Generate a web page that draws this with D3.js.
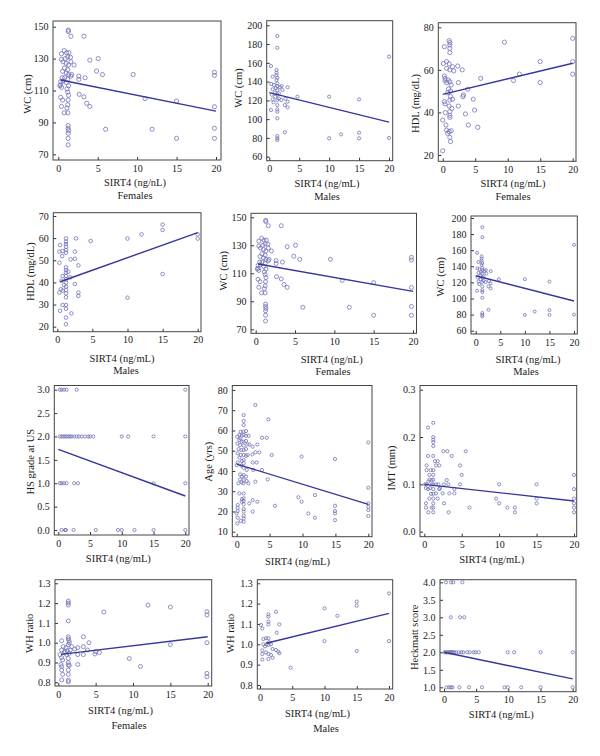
<!DOCTYPE html>
<html>
<head>
<meta charset="utf-8">
<script src="https://cdn.jsdelivr.net/npm/d3@7"></script>
<style>
  body { margin: 0; background: #fff; }
  svg text { font-family: "Liberation Serif", "DejaVu Serif", serif; fill: #1a1a1a; }
</style>
</head>
<body>
<div id="chart"></div>
<script>
// ---- data ----
var xTicks = [0, 5, 10, 15, 20];

var wcFemales = [[1.27,147.9],[1.27,147],[1.6,144],[3.25,144],[0.4,133],[0.75,135],[1.05,133.7],[1.35,133.7],
  [0.4,129.5],[0.9,130],[1.2,131],[1.55,130.8],[0.6,128],[1.0,127],[1.3,126],[0.8,124],[1.2,123],[0.55,122],
  [1.0,121],[1.3,120],[1.6,119],[0.8,118],[1.2,117],[0.6,116],[1.0,115],[1.3,113],[1.1,111],[1.2,109],[1.3,107],
  [1.25,104],[1.2,101],[1.1,99],[4,129],[5.06,130],[4.85,122.2],[5.6,120],[9.5,120],[2.0,126],[2.6,119],[2.6,117],
  [3.4,118],[0.3,115.6],[0.3,113.5],[0.4,112],[2.65,107.6],[3.25,106],[3.6,102],[4,100],[0.3,105.7],[0.55,104],
  [0.4,100],[0.75,96],[1.2,96],[11,104.9],[15,103.4],[6.0,85.7],[11.9,85.7],[15,80],[1.25,88],[1.25,86.3],
  [1.3,84.9],[1.25,83.2],[1.25,80],[1.25,75.9],[19.8,121.4],[19.8,119.5],[19.8,99.8],[19.8,86.3],[19.8,80],
  [1.6,128],[1.7,120],[0.2,113],[0.5,118]];
var wcFemalesFit = [[0.3,116.6],[20,97.1]];
var wcFemalesTicks = [70, 90, 110, 130, 150];

var wcMales = [[1.34,188.6],[1.34,176],[0.28,156.6],[1.2,152.4],[1.2,149.5],[1.2,147],[1.34,144],[1.2,141.7],
  [1.34,138.2],[1.34,135.3],[0.56,145.3],[0.78,136.4],[0.56,131.8],[0.33,137.5],[0.56,121],[0.28,109.7],
  [1.34,131],[1.34,126],[1.34,120.4],[1.34,115],[1.34,110.4],[1.34,108],[1.6,127.5],[1.8,134],[2,120.4],
  [2.06,135.3],[2.2,131],[3.06,134],[3.06,118.6],[3.06,112.6],[2.6,115],[2.7,121.8],[4.7,124],[1.34,100.9],
  [2.6,86],[1.34,82],[1.34,79.6],[1.34,77.8],[10,124],[10,79.6],[12,83.8],[15,121],[15,85.6],[15,79.6],
  [20,166.6],[20,80],[0.9,128],[1.0,124],[0.7,118],[1.1,133],[0.4,126],[1.6,122]];
var wcMalesFit = [[0,128.2],[20,96.9]];
var wcMalesTicks = [60, 80, 100, 120, 140, 160, 180, 200];

var hdlFemales = [[0.26,70.9],[0,22],[1,73.7],[1.1,72.8],[1.1,71.7],[1.1,70.1],[1.1,68.1],[0.1,63],[0.6,63.9],
  [1,62.8],[1.5,61.5],[2.3,61.8],[3,60],[0.6,60.7],[1.1,60],[1.7,59.5],[0.26,57.1],[0.36,56],[0.36,54.9],
  [0.87,55.2],[1.1,54.4],[0.6,54],[1.3,52.9],[2.4,54],[5.85,56],[9.5,73],[10.9,55],[11.8,58],[15,63.9],[15,54],
  [20,74.8],[20,63.9],[20,58],[3.85,50.9],[0.77,49.3],[0.26,45.1],[0.36,44],[1.1,45.8],[1.5,46.2],[1,43],
  [1.4,41.9],[1.1,40.4],[0.4,39.9],[1.1,37.7],[1.1,38.6],[3.1,47.4],[3.2,48.2],[4.7,46.2],[4.9,41.1],[2.4,43],
  [3.5,39.3],[3.95,34.1],[5.4,33],[0,36.4],[0.5,34.1],[0.6,31.7],[1,31],[1.3,31.4],[0.77,30.2],[1.1,28.3],
  [1.2,26.3],[1.2,47.5],[0.9,51],[1.2,50]];
var hdlFemalesFit = [[0,48.5],[20,63.1]];
var hdlFemalesTicks = [20, 40, 60, 80];

var hdlMales = [[0.4,56.9],[0.3,53.9],[0.76,54.2],[0.7,51.9],[0.3,48.9],[1.24,59.9],[1.24,58.4],[1.24,57.3],
  [1.24,56.1],[1.24,54.6],[1.24,53.4],[2.5,53.9],[2.66,59.9],[2.5,50.7],[1.9,50.4],[3,47.7],[4.75,58.7],
  [10,59.8],[12,61.7],[15,66.1],[15,63.7],[15,43.8],[20,61.7],[20,59.8],[10,33.1],[1.24,46.8],[1.24,45.6],
  [1.24,44.4],[1.24,42.9],[1.24,41.4],[1.24,39.9],[1.24,38.1],[1.24,36.6],[1.24,35.1],[1.24,33.3],[1.24,29.8],
  [1.24,28.1],[1.24,24.1],[1.24,21.1],[1.57,44.8],[1.85,42.3],[0.76,42.9],[0.6,40.8],[0.95,38.8],[0.5,36.9],
  [0.76,36.3],[0.3,35.4],[2.5,39.3],[3,35.4],[3,33.9],[0.76,29.8],[0.4,27.2],[2,26]];
var hdlMalesFit = [[0.4,40.3],[20,62.5]];
var hdlMalesTicks = [20, 30, 40, 50, 60, 70];

var hsGrade = [[0.26,3],[0.52,3],[0.9,3],[1.3,3],[2.9,3],[20,3],
  [0.26,2],[0.52,2],[0.8,2],[1.05,2],[1.3,2],[1.6,2],[1.85,2],[2.1,2],[2.5,2],[2.9,2],[3.25,2],[3.7,2],[4.2,2],
  [4.7,2],[5,2],[5.5,2],[10,2],[11,2],[15,2],[20,2],
  [0.26,1],[0.52,1],[0.9,1],[1.3,1],[2.5,1],[3.1,1],[15,1],[20,1],
  [0.5,0],[1.05,0],[1.2,0],[2.4,0],[5.9,0],[9.4,0],[10,0],[12,0],[15,0],[20,0]];
var hsGradeFit = [[0,1.725],[20,0.727]];
var hsGradeTicks = [0, 0.5, 1, 1.5, 2, 2.5, 3];

var age = [[2.84,72.6],[4.81,65.5],[1.06,67.6],[1.06,64.7],[1.06,62.7],[0.61,59.4],[1.01,59.4],[1.42,59.7],
  [0.41,57.8],[0.76,57.4],[1.06,57.8],[1.42,57.4],[0.1,56.9],[0.56,56.1],[3.85,56.4],[4.56,56.4],[1.82,57.4],
  [1.62,53.1],[1.92,53.1],[3.14,53.1],[2.43,52],[0.41,55.3],[0.76,54.5],[1.06,54.5],[1.42,54.8],[0.1,53.6],
  [0.51,52.8],[1.06,52.5],[0.3,50.8],[0.71,50.3],[1.06,50.3],[1.42,50.8],[0.61,47.9],[1.06,47.9],[0.15,48.7],
  [1.42,47.5],[0.41,46.6],[1.06,45.4],[0.76,44.9],[1.06,43.8],[0.71,42.6],[1.06,41.6],[2.84,49.2],[3.44,49.2],
  [5.32,47.9],[2.38,48.2],[1.67,47.9],[9.87,47.1],[14.94,45.9],[20,54.1],[20,31.7],[3.04,44.2],[2.43,44.2],
  [2.53,40.5],[3.85,40.5],[1.52,40.5],[0.15,44.2],[0,42.9],[0.51,38.3],[0.81,37.2],[1.06,38],[1.42,37.2],
  [0.51,35.8],[1.06,35.5],[1.52,35],[0.25,33.9],[0.76,34.4],[1.01,33.9],[1.77,33.9],[0.41,28.9],[1.06,28.9],
  [1.06,26.5],[1.06,25.1],[0.81,26.1],[0.76,24.8],[1.06,23.5],[2.84,34.7],[4.71,35.8],[3.14,24.8],[2.43,25.6],
  [2.43,19.9],[1.92,24],[5.82,22.8],[9.37,27],[9.87,24.8],[11.9,28.1],[10.89,19],[11.9,16.9],[14.94,22.8],
  [14.94,20.2],[14.94,19],[14.94,15.7],[20,24],[20,22.3],[20,20.7],[20,17.7],[0.15,23.2],[0.15,21.8],
  [0.15,20.2],[0,19],[0.15,16.9],[0.1,14.1],[0.61,15.3],[1.06,17.9],[1.06,16.6],[1.06,14.9],[1.06,19.9],
  [1.06,21.2]];
var ageFit = [[0,43.4],[20,23.5]];
var ageTicks = [10, 20, 30, 40, 50, 60, 70, 80];

var imt = [[0.49,0.22],[1.2,0.23],[1.2,0.2],[1.2,0.194],[1.2,0.189],[1.2,0.181],[0.49,0.16],[0.31,0.14],
  [0.31,0.13],[1.2,0.16],[1.43,0.149],[1.79,0.149],[2.0,0.14],[1.56,0.14],[2.54,0.17],[3.08,0.17],[3.66,0.16],
  [5.54,0.17],[4.78,0.14],[5.0,0.12],[0.09,0.1],[0.54,0.106],[0.98,0.109],[1.2,0.12],[1.2,0.13],[0.85,0.13],
  [0.67,0.12],[0.22,0.092],[0.76,0.092],[1.2,0.1],[1.56,0.1],[1.88,0.1],[2.1,0.092],[2.63,0.1],[2.99,0.109],
  [3.21,0.1],[2.46,0.081],[2.63,0.06],[3.35,0.081],[3.26,0.041],[4.02,0.09],[4.02,0.081],[4.78,0.1],
  [6.03,0.051],[10,0.1],[10,0.06],[9.6,0.07],[11.1,0.051],[12.1,0.051],[12.1,0.041],[15,0.1],[15,0.07],
  [15,0.06],[20,0.12],[20,0.09],[20,0.07],[20,0.06],[20,0.051],[20,0.041],[0.22,0.06],[0.22,0.051],
  [0.54,0.041],[0.67,0.07],[0.98,0.051],[1.2,0.07],[1.2,0.06],[1.2,0.051],[1.2,0.041],[1.56,0.081],
  [1.79,0.07],[2.0,0.09],[0.5,0.09],[0.9,0.08],[1.0,0.1],[0.3,0.1],[1.2,0.11],[1.2,0.09],[1.2,0.08],[0.7,0.11]];
var imtFit = [[0,0.1],[20,0.065]];
var imtTicks = [0, 0.1, 0.2, 0.3];

var whFemales = [[1.34,1.21],[1.34,1.2],[1.34,1.19],[1.34,1.11],[6.1,1.155],[12,1.19],[15,1.18],[15,0.99],
  [9.5,0.92],[11,0.88],[0.45,1.01],[1.34,1.03],[1.34,1.02],[1.43,1.01],[1.47,1.0],[1.34,0.99],[3.35,1.03],
  [4.1,1.0],[3.35,0.98],[3.9,0.963],[2.6,0.975],[2.2,0.968],[0.67,0.98],[1.03,0.975],[0.45,0.963],[0.9,0.955],
  [1.6,0.963],[1.8,0.98],[3.35,0.94],[2.6,0.94],[4.9,0.943],[5.5,0.95],[5.0,0.955],[2.6,0.89],[0.22,0.94],
  [0.45,0.925],[0.58,0.913],[0.36,0.89],[0.45,0.879],[0.45,0.862],[0.58,0.84],[0.45,0.812],[1.34,0.92],
  [1.34,0.9],[1.34,0.888],[1.34,0.862],[1.34,0.84],[1.34,0.81],[1.34,0.803],[1.47,0.885],[1.47,0.946],
  [19.9,1.157],[19.9,1.14],[19.9,1.0],[19.9,0.845],[19.9,0.828],[0.8,0.95],[1.1,0.94],[1.2,0.96]];
var whFemalesFit = [[0.36,0.941],[20,1.03]];

var whMales = [[0.15,1.095],[0.36,1.078],[1.3,1.147],[1.3,1.136],[1.3,1.111],[1.3,1.098],[2.48,1.16],[3,1.098],
  [2.6,1.057],[0.52,1.026],[0.93,1.03],[1.3,1.03],[1.4,1.01],[1.03,1.0],[0.52,1.0],[0.78,0.99],[0.36,0.97],
  [1.3,0.997],[1.7,1.0],[1.96,0.977],[2.48,0.972],[2.84,0.964],[3,0.956],[0.36,0.952],[0.93,0.96],[1.3,0.952],
  [1.7,0.948],[1.96,0.934],[1.3,0.928],[0.36,0.925],[4.75,0.885],[10,1.177],[10,1.016],[12,1.14],[15,1.21],
  [15,1.19],[15,0.967],[20,1.25],[20,1.016]];
var whMalesFit = [[0.95,1.005],[20,1.152]];
var whTicks = [0.8, 0.9, 1.0, 1.1, 1.2, 1.3];

var heckmatt = [[0.3,4],[1.1,4],[1.45,4],[2.85,4],[1.05,3],[2.5,3],[3.15,3],
  [0.1,2],[0.3,2],[0.5,2],[0.7,2],[0.9,2],[1.0,2],[1.1,2],[1.2,2],[1.4,2],[1.6,2],[1.9,2],[2.3,2],[2.7,2],
  [3.0,2],[3.6,2],[4.0,2],[4.6,2],[4.9,2],[5.4,2],[9.9,2],[10.9,2],[15,2],[20,2],
  [0.4,1],[0.8,1],[1.1,1],[1.3,1],[2.4,1],[3.9,1],[5.9,1],[9.4,1],[9.9,1],[12,1],[15,1],[20,1]];
var heckmattFit = [[0,2.0],[20,1.24]];
var heckmattTicks = [1, 1.5, 2, 2.5, 3, 3.5, 4];

// ---- panel layout ----
var f0 = d3.format("d"), f1 = d3.format(".1f");
var panels = [
  {data: wcFemales, fit: wcFemalesFit, ticks: wcFemalesTicks, fmt: f0, box: [53,221,21,160], xr: [58.3,216], yr: [154.3,26.7],
   ylab: "WC (cm)", yl: [27,94], xlab: "SIRT4 (ng/nL)", xl: [135,186], sub: "Females", sl: [135,199], r: 2.1},
  {data: wcMales, fit: wcMalesFit, ticks: wcMalesTicks, fmt: f0, box: [266.7,392.7,20.7,160.7], xr: [269.3,389], yr: [156.7,25.3],
   ylab: "WC (cm)", yl: [238.5,88], xlab: "SIRT4 (ng/mL)", xl: [327,186.5], sub: "Males", sl: [327,199.5], r: 1.6},
  {data: hdlFemales, fit: hdlFemalesFit, ticks: hdlFemalesTicks, fmt: f0, box: [438.3,576,22.7,161.3], xr: [442.7,572.7], yr: [155,27.3],
   ylab: "HDL (mg/dL)", yl: [415,103.5], xlab: "SIRT4 (ng/mL)", xl: [513,187], sub: "Females", sl: [513,199.5], r: 2.1},
  {data: hdlMales, fit: hdlMalesFit, ticks: hdlMalesTicks, fmt: f0, box: [53.3,201,212.7,331.7], xr: [57.3,197.7], yr: [326.7,216],
   ylab: "HDL (mg/dL)", yl: [30,271.7], xlab: "SIRT4 (ng/mL)", xl: [122,361.5], sub: "Males", sl: [126,373.5], r: 1.8},
  {data: wcFemales, fit: wcFemalesFit, ticks: wcFemalesTicks, fmt: f0, box: [251,416.5,213.3,333.3], xr: [255.7,413], yr: [329.3,217.3],
   ylab: "WC (cm)", yl: [223.5,270.7], xlab: "SIRT4 (ng/nL)", xl: [331.7,363], sub: "Females", sl: [333,375], r: 2},
  {data: wcMales, fit: wcMalesFit, ticks: wcMalesTicks, fmt: f0, box: [471,577.3,216,334], xr: [475.7,574], yr: [330.7,218],
   ylab: "WC (cm)", yl: [440.7,276.7], xlab: "SIRT4 (ng/mL)", xl: [528,363], sub: "Males", sl: [526,375], r: 1.5},
  {data: hsGrade, fit: hsGradeFit, ticks: hsGradeTicks, fmt: f1, box: [54.3,189,385.5,535], xr: [58.3,185.3], yr: [530,389.7],
   ylab: "HS grade at US", yl: [30,461.7], xlab: "SIRT4 (ng/mL)", xl: [118.3,562], sub: "", sl: [0,0], r: 1.6},
  {data: age, fit: ageFit, ticks: ageTicks, fmt: f0, box: [232.3,372,385.5,536.7], xr: [236.7,368.3], yr: [531.7,390],
   ylab: "Age (yrs)", yl: [208.3,461.7], xlab: "SIRT4 (ng/mL)", xl: [297.5,564.5], sub: "", sl: [0,0], r: 1.6},
  {data: imt, fit: imtFit, ticks: imtTicks, fmt: f1, box: [420,576.7,385.5,536.7], xr: [424.3,574], yr: [531.7,389.7],
   ylab: "IMT (mm)", yl: [391.7,468], xlab: "SIRT4 (ng/mL)", xl: [491.7,563], sub: "", sl: [0,0], r: 1.6},
  {data: whFemales, fit: whFemalesFit, ticks: whTicks, fmt: f1, box: [55,211.7,579.7,686], xr: [58.3,207.7], yr: [682.3,583.3],
   ylab: "WH ratio", yl: [29.3,633.3], xlab: "SIRT4 (ng/mL)", xl: [120.5,714], sub: "Females", sl: [129,729], r: 2},
  {data: whMales, fit: whMalesFit, ticks: whTicks, fmt: f1, box: [257.3,392.7,579.7,689], xr: [260,389], yr: [685,583.3],
   ylab: "WH ratio", yl: [230.7,633.3], xlab: "SIRT4 (ng/mL)", xl: [317.5,716.5], sub: "Males", sl: [326,732], r: 1.6},
  {data: heckmatt, fit: heckmattFit, ticks: heckmattTicks, fmt: f1, box: [440,576,579.7,691.7], xr: [444,572.7], yr: [687.3,582.3],
   ylab: "Heckmatt score", yl: [414,637.3], xlab: "SIRT4 (ng/mL)", xl: [501.3,718], sub: "", sl: [0,0], r: 1.6}
];

var svg = d3.select("#chart").append("svg")
  .attr("width", 600)
  .attr("height", 756);

var dotColor = "#7272b8", lineColor = "#36369c";

panels.forEach(function(p) {
  var yd = [d3.min(p.ticks), d3.max(p.ticks)];
  var x = d3.scaleLinear().domain([0, 20]).range(p.xr);
  var y = d3.scaleLinear().domain(yd).range(p.yr);
  var g = svg.append("g");

  // x axis (ticks point into the plot)
  var xa = g.append("g")
    .attr("transform", "translate(0," + p.box[3] + ")")
    .call(d3.axisBottom(x).tickValues(xTicks).tickSizeInner(-3).tickSizeOuter(0).tickPadding(4.5));
  // y axis
  var ya = g.append("g")
    .attr("transform", "translate(" + p.box[0] + ",0)")
    .call(d3.axisLeft(y).tickValues(p.ticks).tickFormat(p.fmt).tickSizeInner(-3).tickSizeOuter(0).tickPadding(4.5));
  [xa, ya].forEach(function(a) {
    a.select(".domain").remove();
    a.selectAll("line").attr("stroke", "#333");
    a.selectAll("text").style("font-size", "10px").style("font-family", "Liberation Serif").attr("fill", "#1a1a1a");
  });

  // frame
  g.append("rect")
    .attr("x", p.box[0]).attr("y", p.box[2])
    .attr("width", p.box[1] - p.box[0]).attr("height", p.box[3] - p.box[2])
    .attr("fill", "none").attr("stroke", "#444").attr("stroke-width", 1);

  // points
  g.append("g").selectAll("circle")
    .data(p.data)
    .enter()
    .append("circle")
      .attr("cx", function(d) { return x(d[0]); })
      .attr("cy", function(d) { return y(d[1]); })
      .attr("r", p.r)
      .attr("fill", "none")
      .attr("stroke", dotColor)
      .attr("stroke-width", 0.8);

  // fitted line
  g.append("path")
    .datum(p.fit)
    .attr("d", d3.line().x(function(d) { return x(d[0]); }).y(function(d) { return y(d[1]); }))
    .attr("fill", "none")
    .attr("stroke", lineColor)
    .attr("stroke-width", 1.4);

  // labels
  g.append("text")
    .attr("x", p.xl[0]).attr("y", p.xl[1])
    .attr("text-anchor", "middle")
    .style("font-size", "10.5px")
    .text(p.xlab);
  if (p.sub) {
    g.append("text")
      .attr("x", p.sl[0]).attr("y", p.sl[1])
      .attr("text-anchor", "middle")
      .style("font-size", "10.5px")
      .text(p.sub);
  }
  g.append("text")
    .attr("transform", "translate(" + p.yl[0] + "," + p.yl[1] + ") rotate(-90)")
    .attr("text-anchor", "middle")
    .attr("dominant-baseline", "central")
    .style("font-size", "10.5px")
    .text(p.ylab);
});
</script>
</body>
</html>
